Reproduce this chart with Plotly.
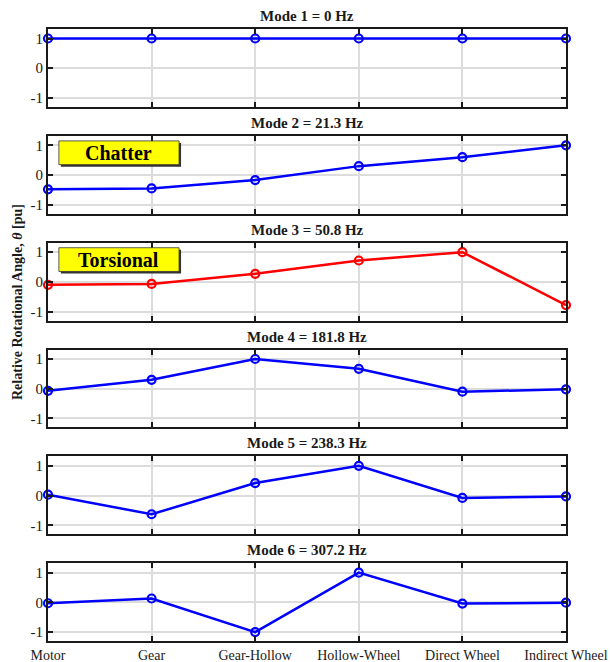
import plotly.graph_objects as go
from plotly.subplots import make_subplots

categories = ["Motor", "Gear", "Gear-Hollow", "Hollow-Wheel", "Direct Wheel", "Indirect Wheel"]
mode_titles = ["Mode 1 = 0 Hz", "Mode 2 = 21.3 Hz", "Mode 3 = 50.8 Hz",
               "Mode 4 = 181.8 Hz", "Mode 5 = 238.3 Hz", "Mode 6 = 307.2 Hz"]
mode1 = [1, 1, 1, 1, 1, 1]
mode2 = [-0.48, -0.45, -0.17, 0.30, 0.60, 1.0]
mode3 = [-0.10, -0.07, 0.27, 0.72, 1.0, -0.78]
mode4 = [-0.07, 0.30, 1.0, 0.67, -0.10, -0.02]
mode5 = [0.03, -0.63, 0.42, 1.0, -0.08, -0.03]
mode6 = [-0.03, 0.13, -1.0, 1.0, -0.04, -0.01]
modes = [mode1, mode2, mode3, mode4, mode5, mode6]
colors = ["#0000ff", "#0000ff", "#ff0000", "#0000ff", "#0000ff", "#0000ff"]
yticks = [-1, 0, 1]
labels = {2: "Chatter", 3: "Torsional"}

FONT = "Liberation Serif"
fig = make_subplots(rows=6, cols=1, vertical_spacing=29 / 612)

xidx = list(range(len(categories)))
for i, (vals, col) in enumerate(zip(modes, colors), start=1):
    fig.add_trace(go.Scatter(
        x=xidx, y=vals, mode="lines+markers",
        line=dict(color=col, width=2.5),
        marker=dict(symbol="circle-open", size=8, color=col, line=dict(width=2.2, color=col)),
        cliponaxis=False, showlegend=False), row=i, col=1)
    fig.update_xaxes(row=i, col=1, range=[0, 5], tickmode="array", tickvals=xidx,
                     ticktext=categories if i == 6 else [""] * 6,
                     showgrid=True, gridcolor="#dcdcdc", gridwidth=1.5,
                     ticks="inside", ticklen=5, tickwidth=2, tickcolor="#1a1a1a",
                     showline=True, linecolor="#1a1a1a", linewidth=2, mirror="ticks",
                     zeroline=False, automargin=False, ticklabeloverflow="allow",
                     tickfont=dict(family=FONT, size=14, color="#1a1a1a"))
    fig.update_yaxes(row=i, col=1, range=[-1.3, 1.32], tickmode="array", tickvals=yticks,
                     ticktext=[str(v) for v in yticks],
                     showgrid=True, gridcolor="#dcdcdc", gridwidth=1.5,
                     ticks="inside", ticklen=5, tickwidth=2, tickcolor="#1a1a1a",
                     showline=True, linecolor="#1a1a1a", linewidth=2, mirror="ticks",
                     zeroline=False, automargin=False,
                     tickfont=dict(family=FONT, size=15, color="#1a1a1a"))
    suffix = "" if i == 1 else str(i)
    fig.add_annotation(x=0.5, y=1, xref=f"x{suffix} domain", yref=f"y{suffix} domain",
                       text=f"<b>{mode_titles[i-1]}</b>", showarrow=False,
                       xanchor="center", yanchor="bottom", yshift=3,
                       font=dict(family=FONT, size=15, color="#1a1a1a"))
    if i in labels:
        x0, x1, y0, y1 = 0.021, 0.253, 0.63, 0.935
        dx, dy = 2 / 518, 2 / 78
        fig.add_shape(type="rect", xref=f"x{suffix} domain", yref=f"y{suffix} domain",
                      x0=x0 + dx, x1=x1 + dx, y0=y0 - dy, y1=y1 - dy,
                      fillcolor="#333333", line=dict(width=0))
        fig.add_shape(type="rect", xref=f"x{suffix} domain", yref=f"y{suffix} domain",
                      x0=x0, x1=x1, y0=y0, y1=y1,
                      fillcolor="#ffff00", line=dict(width=0.8, color="#333333"))
        fig.add_annotation(x=(x0 + x1) / 2, y=(y0 + y1) / 2,
                           xref=f"x{suffix} domain", yref=f"y{suffix} domain",
                           xanchor="center", yanchor="middle",
                           text=f"<b>{labels[i]}</b>", showarrow=False,
                           font=dict(family=FONT, size=20, color="#000000"))

fig.add_annotation(x=(17 - 48) / 518, y=(641 - 302) / 612, xref="paper", yref="paper",
                   xanchor="center", yanchor="middle",
                   text="<b>Relative Rotational Angle, <i>θ</i> [pu]</b>",
                   showarrow=False, textangle=-90,
                   font=dict(family=FONT, size=14, color="#1a1a1a"))

fig.update_layout(width=610, height=662, margin=dict(l=48, r=44, t=29, b=21),
                  paper_bgcolor="white", plot_bgcolor="white")
fig.write_html("out.html")
